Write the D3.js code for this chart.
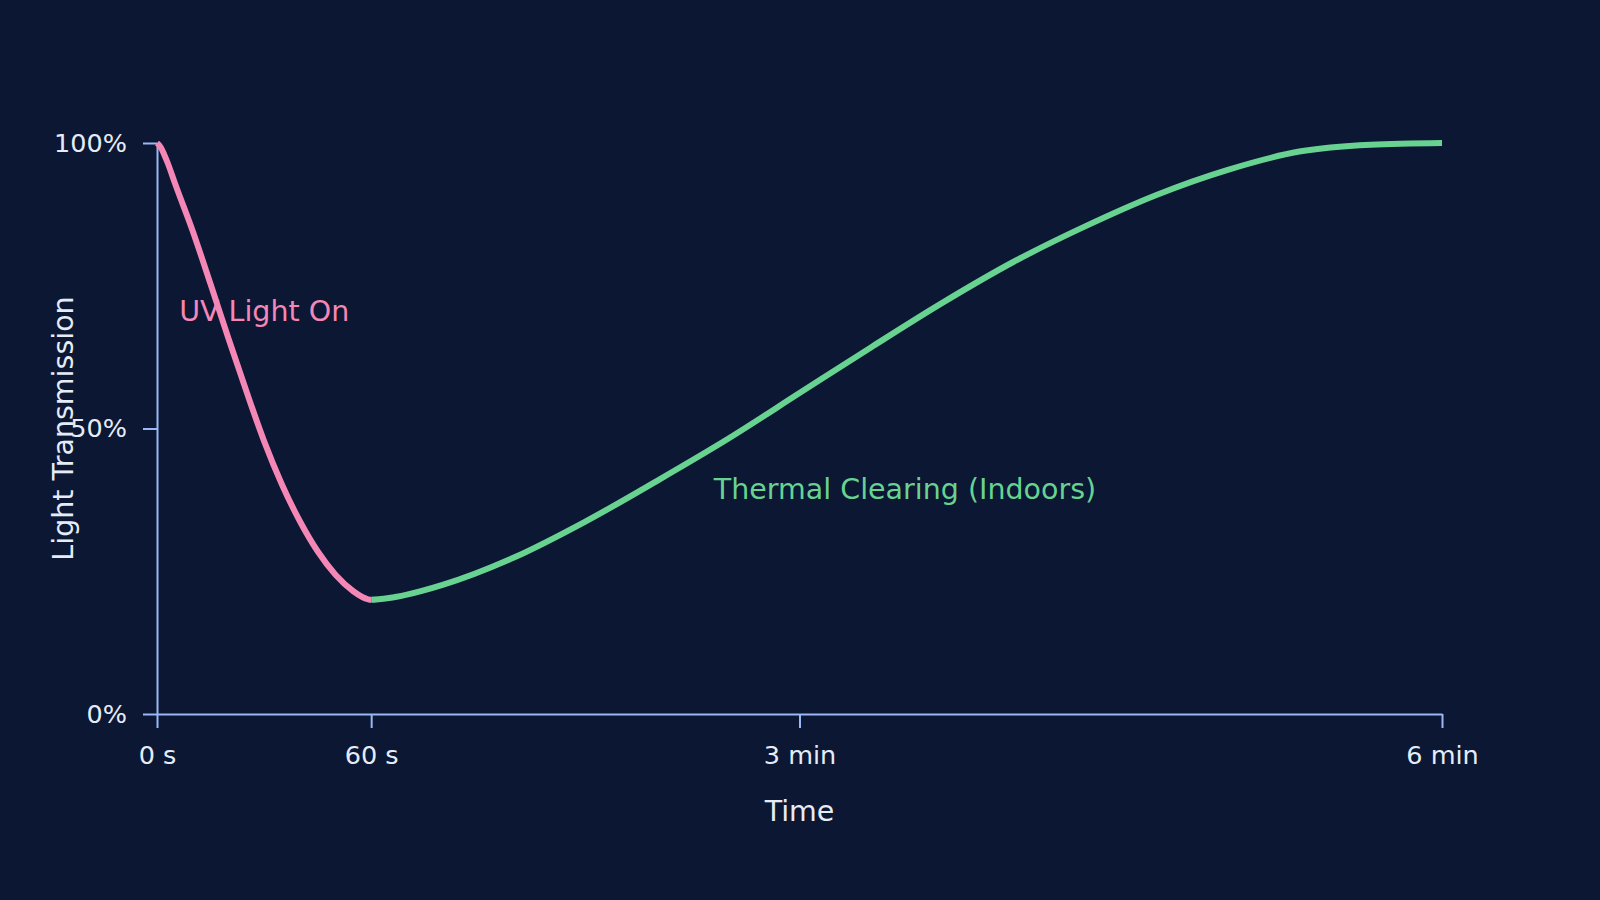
<!DOCTYPE html>
<html lang="en">
<head>
  <meta charset="UTF-8">
  <script src="https://d3js.org/d3.v7.min.js"></script>
  <title>Photochromic lens transmission</title>
  <style>
    html, body { margin: 0; padding: 0; background: #0b1733; }
    svg { display: block; font-family: "DejaVu Sans", sans-serif; }
  </style>
</head>
<body>
  <div id="chart"></div>
  <script>
    // time in seconds, transmission in %
    const uvTimes = [0, 1, 2, 3, 5, 10, 15, 20, 25, 30, 35, 40, 45, 50, 55, 57.5, 60];
    const uvValues = [100, 99.3, 98.0, 96.5, 93.0, 84.6, 75.3, 65.8, 56.6, 47.8, 40.2, 33.8, 28.5, 24.4, 21.5, 20.5, 20];

    const clearTimes = [60, 65, 70, 80, 100, 120, 140, 160, 180, 200, 220, 240, 260, 280, 300, 320, 340, 360];
    const clearValues = [20, 20.3, 20.9, 22.6, 27.4, 33.7, 40.8, 48.2, 56.2, 64.2, 72.0, 79.2, 85.4, 90.9, 95.3, 98.5, 99.7, 100];

    const xTicks = [0, 60, 180, 360];
    const xTickLabels = ['0 s', '60 s', '3 min', '6 min'];
    const yTicks = [0, 50, 100];
    const yTickLabels = ['0%', '50%', '100%'];

    const width = 1600, height = 900;
    const margin = { top: 143, right: 158, bottom: 186, left: 157 };

    const svg = d3.select('#chart')
      .append('svg')
      .attr('width', width)
      .attr('height', height);

    svg.append('rect')
      .attr('width', width)
      .attr('height', height)
      .attr('fill', '#0b1733');

    const x = d3.scaleLinear()
      .domain([0, 360])
      .range([margin.left, width - margin.right]);

    const y = d3.scaleLinear()
      .domain([0, 100])
      .range([height - margin.bottom, margin.top]);

    const axisColor = '#9bb8f4';
    const textColor = '#e6ecf7';
    const pink = '#f487b6';
    const green = '#68d391';

    // axes
    const xAxis = svg.append('g')
      .attr('transform', `translate(0,${y(0)})`)
      .call(d3.axisBottom(x)
        .tickValues(xTicks)
        .tickFormat((d, i) => xTickLabels[i])
        .tickSize(14)
        .tickSizeOuter(0)
        .tickPadding(18));

    const yAxis = svg.append('g')
      .attr('transform', `translate(${x(0)},0)`)
      .call(d3.axisLeft(y)
        .tickValues(yTicks)
        .tickFormat((d, i) => yTickLabels[i])
        .tickSize(14)
        .tickSizeOuter(0)
        .tickPadding(16));

    [xAxis, yAxis].forEach(g => {
      g.select('.domain').attr('stroke', axisColor).attr('stroke-width', 2);
      g.selectAll('.tick line').attr('stroke', axisColor).attr('stroke-width', 2);
      g.selectAll('.tick text')
        .attr('fill', textColor)
        .style('font-size', '25.5px')
        .style('font-family', '"DejaVu Sans", sans-serif');
    });

    // axis titles
    svg.append('text')
      .attr('x', x(180))
      .attr('y', 821)
      .attr('text-anchor', 'middle')
      .attr('fill', textColor)
      .style('font-size', '28.5px')
      .text('Time');

    svg.append('text')
      .attr('transform', `translate(73,${y(50)}) rotate(-90)`)
      .attr('text-anchor', 'middle')
      .attr('fill', textColor)
      .style('font-size', '28.5px')
      .text('Light Transmission');

    // phase labels
    svg.append('text')
      .attr('x', x(6.2))
      .attr('y', y(68.8))
      .attr('fill', pink)
      .style('font-size', '28.5px')
      .text('UV Light On');

    svg.append('text')
      .attr('x', x(156))
      .attr('y', y(37.6))
      .attr('fill', green)
      .style('font-size', '28.5px')
      .text('Thermal Clearing (Indoors)');

    // one smooth curve through both phases, split at 60 s by clip paths
    const uvData = uvTimes.map((t, i) => [t, uvValues[i]]);
    const clearData = clearTimes.map((t, i) => [t, clearValues[i]]);
    const allData = uvData.concat(clearData.slice(1));

    const line = d3.line()
      .x(d => x(d[0]))
      .y(d => y(d[1]))
      .curve(d3.curveMonotoneX);

    const defs = svg.append('defs');
    defs.append('clipPath').attr('id', 'clipUv')
      .append('rect')
      .attr('x', 0).attr('y', 0)
      .attr('width', x(60)).attr('height', height);
    defs.append('clipPath').attr('id', 'clipClear')
      .append('rect')
      .attr('x', x(60)).attr('y', 0)
      .attr('width', width - x(60)).attr('height', height);

    svg.append('path')
      .datum(allData)
      .attr('d', line)
      .attr('clip-path', 'url(#clipUv)')
      .attr('fill', 'none')
      .attr('stroke', pink)
      .attr('stroke-width', 6);

    svg.append('path')
      .datum(allData)
      .attr('d', line)
      .attr('clip-path', 'url(#clipClear)')
      .attr('fill', 'none')
      .attr('stroke', green)
      .attr('stroke-width', 6);
  </script>
</body>
</html>
